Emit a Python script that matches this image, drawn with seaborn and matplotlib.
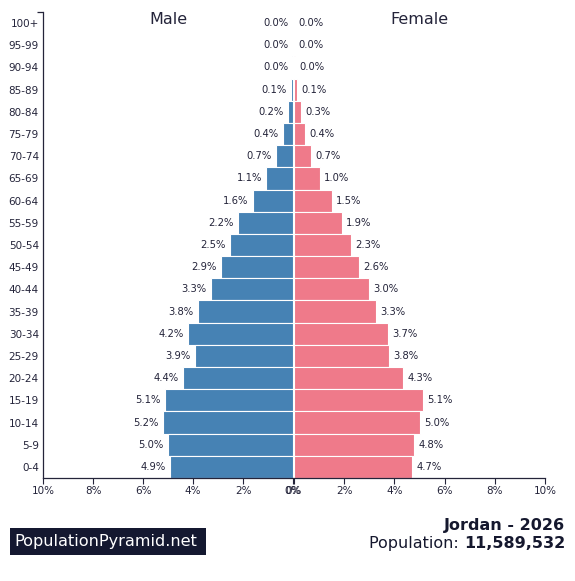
import pandas as pd
import seaborn as sns
import matplotlib.pyplot as plt
from matplotlib.patches import Rectangle

# === DATA (percent of total population) ===
age_groups = ["100+", "95-99", "90-94", "85-89", "80-84", "75-79", "70-74",
              "65-69", "60-64", "55-59", "50-54", "45-49", "40-44", "35-39",
              "30-34", "25-29", "20-24", "15-19", "10-14", "5-9", "0-4"]
male = [0.004, 0.008, 0.03, 0.09, 0.2, 0.4, 0.68, 1.08, 1.62, 2.2, 2.54,
        2.88, 3.3, 3.82, 4.2, 3.94, 4.42, 5.14, 5.22, 5.0, 4.92]
female = [0.004, 0.012, 0.04, 0.12, 0.27, 0.43, 0.68, 1.04, 1.5, 1.9, 2.28,
          2.6, 2.98, 3.28, 3.74, 3.8, 4.34, 5.12, 5.0, 4.8, 4.72]
xticks = [0, 2, 4, 6, 8, 10]

country = "Jordan - 2026"
population = "11,589,532"

MALE_C = "#4682b4"
FEMALE_C = "#ef7a8a"
TEXT_C = "#24243a"

sns.set_style("white")
plt.rcParams["font.family"] = ["DejaVu Sans"]

df = pd.DataFrame({"Age": age_groups, "Male": male, "Female": female})

fig = plt.figure(figsize=(5.75, 5.81), dpi=100, facecolor="white")
ax_m = fig.add_axes([43 / 575, 1 - 478 / 581, 250 / 575, 466 / 581])
ax_f = fig.add_axes([294 / 575, 1 - 478 / 581, 251 / 575, 466 / 581])

sns.barplot(data=df, x="Male", y="Age", order=age_groups, color=MALE_C,
            width=1.0, edgecolor="white", linewidth=0.8, saturation=1,
            ax=ax_m)
sns.barplot(data=df, x="Female", y="Age", order=age_groups, color=FEMALE_C,
            width=1.0, edgecolor="white", linewidth=0.8, saturation=1,
            ax=ax_f)

ax_m.set_xlim(10, 0)
ax_f.set_xlim(0, 10)
for ax in (ax_m, ax_f):
    ax.set_ylim(len(age_groups) - 0.5, -0.5)
    ax.set_xlabel("")
    ax.set_ylabel("")
    ax.set_xticks(xticks)
    ax.set_xticklabels([f"{t}%" for t in xticks], fontsize=7.5, color=TEXT_C)
    ax.tick_params(axis="x", length=4, width=0.8, color=TEXT_C, pad=2,
                   direction="out", bottom=True)
    ax.spines["top"].set_visible(False)
    ax.spines["right"].set_visible(False)
    ax.spines["bottom"].set_color(TEXT_C)
    ax.spines["bottom"].set_linewidth(0.9)
    ax.patch.set_alpha(0)

ax_f.spines["left"].set_visible(False)
ax_f.set_yticks([])
ax_m.spines["left"].set_color(TEXT_C)
ax_m.spines["left"].set_linewidth(0.9)
ax_m.tick_params(axis="y", length=0, pad=3, labelsize=7.5, labelcolor=TEXT_C)
# small outer tick at the top of the age axis
ax_m.set_yticks([-0.5], minor=True)
ax_m.tick_params(axis="y", which="minor", length=4, width=0.9, color=TEXT_C,
                 left=True)

# bar value labels
for i, (m, f) in enumerate(zip(male, female)):
    ax_m.text(m + 0.17, i, f"{m:.1f}%", ha="right", va="center",
              fontsize=7.2, color=TEXT_C)
    ax_f.text(f + 0.17, i, f"{f:.1f}%", ha="left", va="center",
              fontsize=7.2, color=TEXT_C)

fig.text(168 / 575, 1 - 19 / 581, "Male", ha="center", va="center",
         fontsize=11.5, color=TEXT_C)
fig.text(419 / 575, 1 - 19 / 581, "Female", ha="center", va="center",
         fontsize=11.5, color=TEXT_C)

fig.text(565 / 575, 1 - 530 / 581, country, ha="right", va="baseline",
         fontsize=11.5, fontweight="bold", color="#15182e")
pop_bold = fig.text(565 / 575, 1 - 548 / 581, population, ha="right",
                    va="baseline", fontsize=11.5, fontweight="bold",
                    color="#15182e")
fig.canvas.draw()
bb = pop_bold.get_window_extent()
x0 = fig.transFigure.inverted().transform((bb.x0, bb.y0))[0]
fig.text(x0, 1 - 548 / 581, "Population: ", ha="right", va="baseline",
         fontsize=11.5, color="#15182e")

# watermark box
fig.patches.append(Rectangle((10 / 575, 1 - 555 / 581), 196 / 575, 27 / 581,
                             transform=fig.transFigure, facecolor="#141830",
                             edgecolor="none", zorder=1))
fig.text(14 / 575, 1 - 541.5 / 581, "PopulationPyramid.net", ha="left",
         va="center", fontsize=11.6, color="white", zorder=2)

fig.savefig("out.png", dpi=100, facecolor="white")
